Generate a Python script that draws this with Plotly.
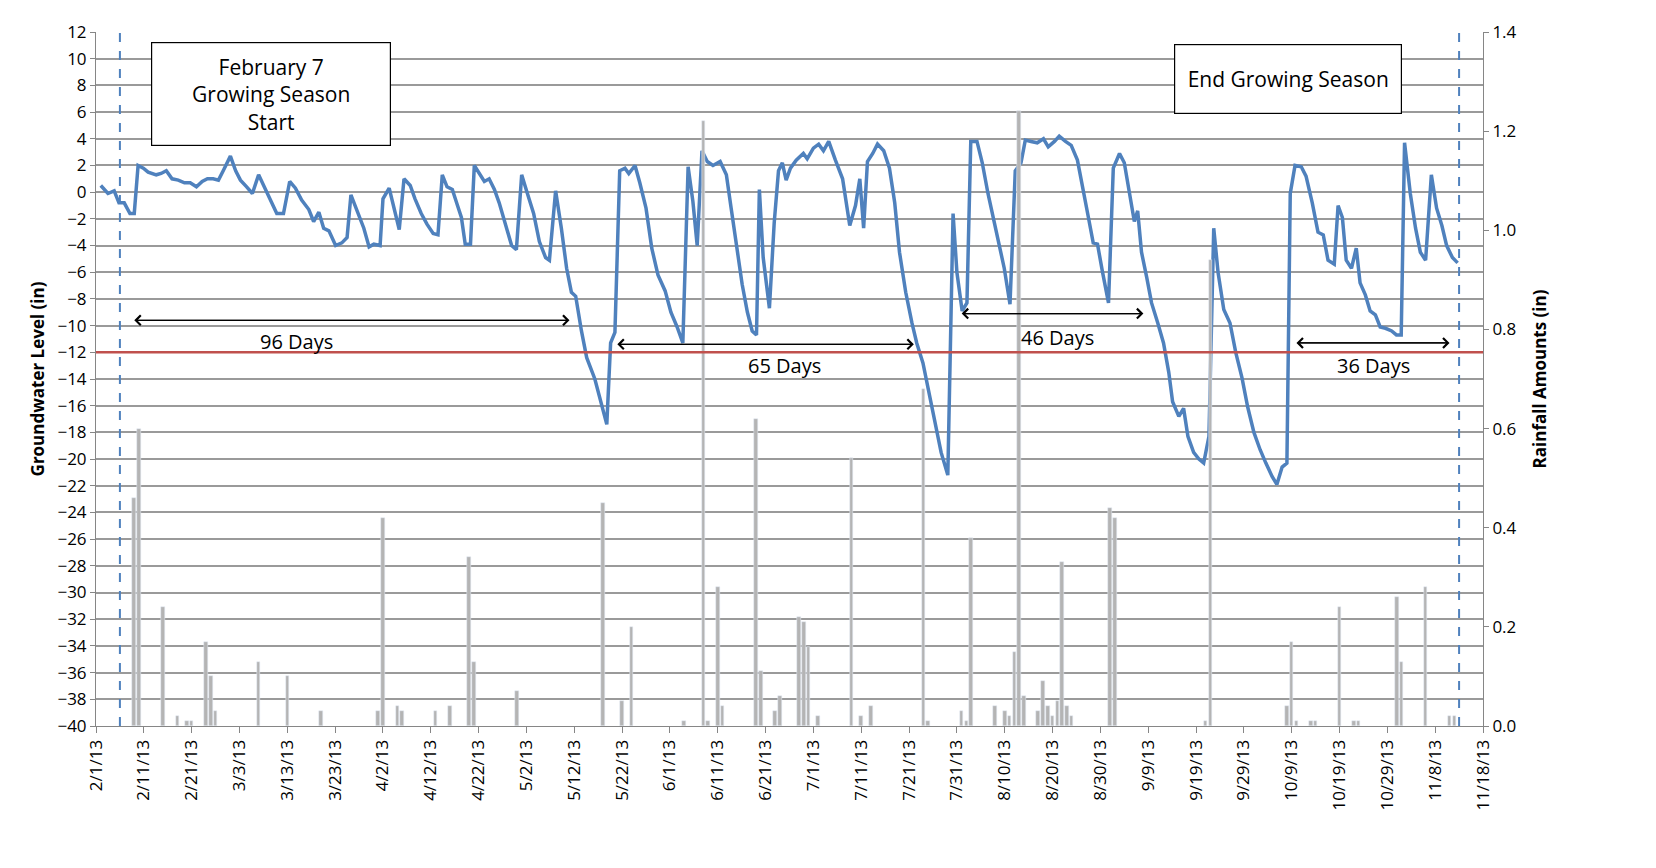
import pandas as pd
import plotly.graph_objects as go

start = pd.Timestamp("2013-02-01")

gw_days = [1.0,2.5,3.8,4.8,5.9,7.1,8.0,8.8,9.9,10.9,12.6,13.6,14.7,15.9,17.2,18.5,19.7,21.0,22.2,23.3,24.5,25.6,26.6,28.1,29.2,30.2,31.5,32.7,34.0,35.2,36.7,37.8,39.2,40.5,41.7,43.0,44.5,45.5,46.6,47.6,48.7,50.1,51.4,52.5,53.3,54.5,56.0,57.1,58.1,59.4,60.0,61.3,62.3,63.4,64.4,65.7,66.7,68.0,69.2,70.5,71.5,72.4,73.4,74.5,75.5,76.4,77.2,78.3,79.1,80.1,81.2,82.2,83.3,84.3,85.4,86.9,87.9,89.0,90.2,91.5,92.7,94.0,94.8,96.1,97.3,98.4,99.4,100.3,101.5,102.6,104.3,105.3,106.8,107.6,108.5,109.5,110.6,111.4,112.7,113.7,115.0,116.2,117.5,119.0,120.2,121.5,122.7,123.8,124.8,125.7,126.7,127.8,129.0,130.5,131.8,132.8,134.1,135.1,136.2,137.2,138.1,138.7,139.5,140.8,141.8,142.7,143.5,144.3,145.2,146.4,147.9,148.7,150.0,151.1,152.1,153.2,154.6,156.1,157.6,158.8,159.7,160.5,161.3,162.4,163.4,164.7,165.9,167.0,168.0,169.3,170.6,171.6,172.9,174.1,175.4,176.7,178.1,179.2,180.0,181.1,182.1,182.9,184.2,185.3,186.5,187.6,188.8,189.9,191.1,192.2,193.4,194.3,195.5,196.8,198.1,199.1,200.4,201.4,202.7,203.9,205.2,206.4,207.5,208.5,209.4,210.4,211.7,212.7,214.0,215.0,216.1,217.1,217.8,218.6,219.7,220.7,222.0,223.2,224.3,225.1,226.4,227.4,228.3,229.5,230.6,231.6,232.7,233.7,234.6,235.8,237.1,238.3,239.6,240.8,242.1,243.4,244.6,245.9,246.9,248.0,249.0,249.7,250.7,252.0,253.0,254.3,255.5,256.6,257.6,258.9,259.7,260.6,261.4,262.5,263.5,264.3,265.4,266.4,267.5,268.5,269.6,270.9,271.9,272.9,273.6,274.8,275.9,276.9,278.0,279.2,280.3,281.4,282.4,283.6,284.7]
gw_level = [0.5,-0.1,0.1,-0.8,-0.8,-1.6,-1.6,2.0,1.8,1.5,1.3,1.4,1.6,1.0,0.9,0.7,0.7,0.4,0.8,1.0,1.0,0.9,1.6,2.7,1.6,0.9,0.4,-0.1,1.3,0.4,-0.7,-1.6,-1.6,0.8,0.3,-0.6,-1.3,-2.2,-1.5,-2.7,-2.9,-4.0,-3.8,-3.4,-0.2,-1.3,-2.7,-4.1,-3.9,-4.0,-0.5,0.3,-1.1,-2.8,1.0,0.5,-0.5,-1.6,-2.4,-3.1,-3.2,1.3,0.4,0.2,-0.9,-1.9,-3.9,-3.9,2.0,1.4,0.8,1.0,0.2,-0.8,-2.2,-4.0,-4.3,1.3,-0.1,-1.6,-3.7,-4.9,-5.1,0.1,-2.7,-5.7,-7.5,-7.8,-10.4,-12.4,-14.0,-15.4,-17.4,-11.3,-10.5,1.6,1.8,1.4,2.0,0.7,-1.2,-4.2,-6.2,-7.4,-9.0,-10.1,-11.3,1.9,-0.7,-4.0,3.1,2.3,2.0,2.3,1.3,-1.2,-4.4,-6.9,-9.0,-10.4,-10.7,0.2,-4.9,-8.7,-2.3,1.6,2.2,0.9,1.8,2.4,2.9,2.5,3.3,3.6,3.1,3.8,2.4,1.0,-2.5,-1.0,1.0,-2.7,2.3,2.9,3.6,3.1,1.8,-0.8,-4.5,-7.5,-9.8,-11.3,-12.8,-15.0,-17.2,-19.5,-21.2,-1.6,-6.0,-8.9,-8.3,3.8,3.8,2.2,-0.1,-1.9,-3.8,-5.7,-8.4,1.6,2.2,3.9,3.8,3.7,4.0,3.4,3.8,4.2,3.8,3.5,2.4,0.3,-1.9,-3.8,-3.9,-5.9,-8.3,1.8,2.9,2.2,-0.1,-2.2,-1.4,-4.5,-6.4,-8.3,-9.8,-11.3,-13.5,-15.7,-16.8,-16.2,-18.3,-19.5,-20.0,-20.3,-18.3,-2.7,-6.0,-8.8,-9.8,-12.0,-13.9,-16.1,-18.0,-19.3,-20.3,-21.3,-21.9,-20.6,-20.3,-0.1,2.0,1.9,1.2,-0.8,-3.0,-3.2,-5.1,-5.4,-1.0,-1.9,-5.1,-5.7,-4.2,-6.8,-7.7,-8.9,-9.2,-10.1,-10.2,-10.4,-10.7,-10.7,3.7,-0.1,-2.7,-4.5,-5.1,1.3,-1.2,-2.5,-4.0,-4.9,-5.3]

rain_days = [8,9,14,17,19,20,23,24,25,34,40,47,59,60,63,64,71,74,78,79,88,106,110,112,123,127,128,130,131,138,139,142,143,147,148,149,151,158,160,162,173,174,181,182,183,188,190,191,192,193,194,197,198,199,200,201,202,203,204,212,213,232,233,249,250,251,254,255,260,263,264,272,273,278,283,284]
rain_in = [0.46,0.60,0.24,0.02,0.01,0.01,0.17,0.10,0.03,0.13,0.10,0.03,0.03,0.42,0.04,0.03,0.03,0.04,0.34,0.13,0.07,0.45,0.05,0.20,0.01,1.22,0.01,0.28,0.04,0.62,0.11,0.03,0.06,0.22,0.21,0.16,0.02,0.54,0.02,0.04,0.68,0.01,0.03,0.01,0.38,0.04,0.03,0.02,0.15,1.24,0.06,0.03,0.09,0.04,0.02,0.05,0.33,0.04,0.02,0.44,0.42,0.01,0.94,0.04,0.17,0.01,0.01,0.01,0.24,0.01,0.01,0.26,0.13,0.28,0.02,0.02]

tick_days = list(range(0, 291, 10))
season_start = "2013-02-06"
season_end = "2013-11-13"
threshold = -12

# arrows: (start date, end date, level, label, label date, label level)
spans = [
    ("2013-02-09", "2013-05-11", -9.6, "96 Days", "2013-03-15", -11.2),
    ("2013-05-21", "2013-07-22", -11.4, "65 Days", "2013-06-25", -13.0),
    ("2013-08-01", "2013-09-08", -9.1, "46 Days", "2013-08-21", -10.9),
    ("2013-10-10", "2013-11-11", -11.3, "36 Days", "2013-10-26", -13.0),
]

def d(x):
    return start + pd.Timedelta(days=x)

gw_x = [d(v) for v in gw_days]
rain_x = [d(v) for v in rain_days]
tick_x = [d(v) for v in tick_days]
tick_t = [f"{t.month}/{t.day}/13" for t in tick_x]

fig = go.Figure()
fig.add_trace(go.Bar(x=rain_x, y=rain_in, yaxis="y2", marker_color="#b4b4b4",
                     width=0.75*86400000, showlegend=False))
fig.add_trace(go.Scatter(x=gw_x, y=gw_level, mode="lines",
                         line=dict(color="#4f81bd", width=3.5), showlegend=False))

fig.add_shape(type="line", xref="paper", x0=0, x1=1, y0=threshold, y1=threshold,
              line=dict(color="#c0504d", width=2.5))
for dt in (season_start, season_end):
    fig.add_shape(type="line", x0=dt, x1=dt, yref="paper", y0=0, y1=1,
                  line=dict(color="#4f81bd", width=2, dash="dash"))

for a, b, lvl, lab, ld, ll in spans:
    for tail, head in ((a, b), (b, a)):
        fig.add_annotation(x=head, y=lvl, ax=tail, ay=lvl, xref="x", yref="y",
                           axref="x", ayref="y", showarrow=True, arrowhead=4,
                           arrowsize=1.6, arrowwidth=1.2, arrowcolor="black", text="")
    fig.add_annotation(x=ld, y=ll, text=lab, showarrow=False,
                       font=dict(size=20, color="black"))

fig.add_annotation(xref="paper", yref="paper", x=0.0393, y=0.986, xanchor="left", yanchor="top",
                   text="February 7<br>Growing Season<br>Start", showarrow=False,
                   bordercolor="black", borderwidth=1.2, bgcolor="white",
                   width=236, height=100, font=dict(size=21, color="black"))
fig.add_annotation(xref="paper", yref="paper", x=0.7775, y=0.983, xanchor="left", yanchor="top",
                   text="End Growing Season", showarrow=False,
                   bordercolor="black", borderwidth=1.2, bgcolor="white",
                   width=224, height=66, font=dict(size=21, color="black"))

fig.update_layout(
    width=1656, height=868, paper_bgcolor="white", plot_bgcolor="white",
    margin=dict(l=88, r=181, t=14, b=150),
    font=dict(family="Open Sans, Liberation Sans, sans-serif", color="black"),
    bargap=0,
    xaxis=dict(range=[d(0), d(290)], tickvals=tick_x, ticktext=tick_t, tickangle=-90,
               tickfont=dict(size=17), showgrid=False, showline=True, linecolor="#868686",
               ticks="outside", tickcolor="#868686", ticklen=6),
    yaxis=dict(range=[-40, 12], dtick=2, tickfont=dict(size=17), showgrid=True,
               gridcolor="#9a9a9a", gridwidth=1.5, showline=True, linecolor="#868686",
               ticks="outside", tickcolor="#868686", zeroline=False,
               title=dict(text="<b>Groundwater Level (in)</b>", font=dict(size=17), standoff=8)),
    yaxis2=dict(range=[0, 1.4], dtick=0.2, tickformat=".1f", overlaying="y", side="right",
                tickfont=dict(size=17), showgrid=False, showline=True, linecolor="#868686",
                ticks="outside", tickcolor="#868686",
                title=dict(text="<b>Rainfall Amounts (in)</b>", font=dict(size=17), standoff=18)),
)
fig.write_html("out.html")
